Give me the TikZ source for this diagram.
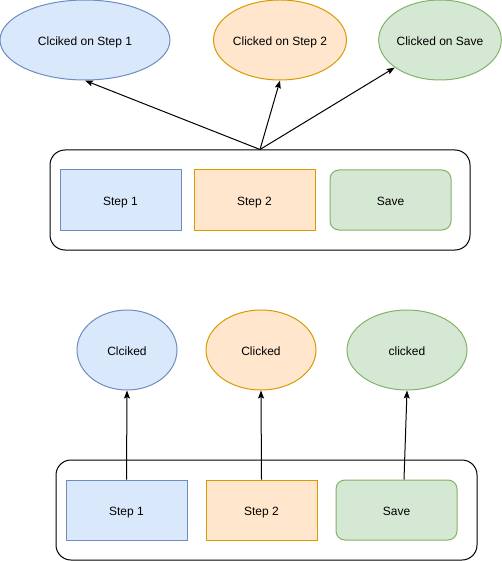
\documentclass[tikz,border=0pt]{standalone}
\usepackage{fontspec}
\setmainfont{Liberation Sans}
\usetikzlibrary{arrows.meta,calc,shapes.geometric}
\definecolor{bfill}{HTML}{DAE8FC}\definecolor{bline}{HTML}{6C8EBF}
\definecolor{ofill}{HTML}{FFE6CC}\definecolor{oline}{HTML}{D79B00}
\definecolor{gfill}{HTML}{D5E8D4}\definecolor{gline}{HTML}{82B366}
\tikzset{
  base/.style={line width=1pt,inner sep=0pt,font=\fontsize{12}{14}\selectfont,text=black,text height=13pt,text depth=1.5pt},
  ell/.style={base,ellipse,minimum height=80pt},
  box/.style={base,rectangle,minimum width=121pt,minimum height=60pt},
  bluebox/.style={fill=bfill,draw=bline},
  orangebox/.style={fill=ofill,draw=oline},
  greenbox/.style={fill=gfill,draw=gline},
  frame/.style={base,draw=black,rounded corners=15pt,minimum height=100pt},
  conn/.style={line width=1pt,-{Stealth[length=8pt,width=6pt,inset=1.5pt]}},
}
\begin{document}
\begin{tikzpicture}[x=1pt,y=-1pt]
\useasboundingbox (0,0) rectangle (501,561);
% top
\node[ell,bluebox,minimum width=170pt] (e1) at (85,40) {Clciked on Step 1};
\node[ell,orangebox,minimum width=120pt] (e2) at (280,40) {Clicked on Step 2};
\node[ell,greenbox,minimum width=120pt] (e3) at (440,40) {Clicked on Save};
\node[frame,minimum width=420pt] (c1) at (260,200) {};
\node[box,bluebox] (s1) at (120.5,200) {Step 1};
\node[box,orangebox] (s2) at (254.5,200) {Step 2};
\node[box,greenbox,rounded corners=9pt] (s3) at (390.5,200) {Save};
\draw[conn] (c1.north) -- (e1.south);
\draw[conn] (c1.north) -- (e2.south);
\draw[conn] (c1.north) -- (e3);
% bottom
\node[ell,bluebox,minimum width=100pt] (f1) at (127,350) {Clciked};
\node[ell,orangebox,minimum width=110pt] (f2) at (261,350) {Clicked};
\node[ell,greenbox,minimum width=120pt] (f3) at (407,350) {clicked};
\node[frame,minimum width=421pt] (c2) at (266.5,510) {};
\node[box,bluebox] (t1) at (126.5,510) {Step 1};
\node[box,orangebox,minimum width=111pt] (t2) at (261.5,510) {Step 2};
\node[box,greenbox,rounded corners=9pt] (t3) at (396.5,510) {Save};
\coordinate (t3out) at ($(t3.north)+(7.5,0)$);
\draw[conn] (t1.north) -- (f1.south);
\draw[conn] (t2.north) -- (f2.south);
\draw[conn] (t3out) -- (f3.south);
\end{tikzpicture}
\end{document}
